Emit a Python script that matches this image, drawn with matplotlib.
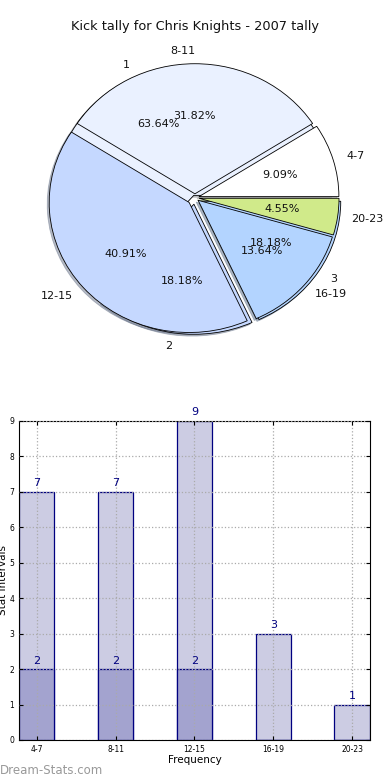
import matplotlib
matplotlib.use('Agg')
import matplotlib.pyplot as plt

# Daten
title = 'Kick tally for Chris Knights - 2007 tally'

inner_labels = ['1', '2', '3']
inner_values = [14, 4, 4]

intervals = ['4-7', '8-11', '12-15', '16-19', '20-23']
tally = [2, 7, 9, 3, 1]

bar_light = [7, 7, 9, 3, 1]
bar_dark = [2, 2, 2, 0, 0]

pie_colors = ['#ffffff', '#eaf1ff', '#c5d8ff', '#b3d4ff', '#d0ea8a']

fig = plt.figure(figsize=(3.9, 7.8), dpi=100)

# Kreisdiagramm (zwei übereinander)
shadow = {'ox': -0.01, 'oy': -0.01, 'shade': 0.45}
ax1 = fig.add_axes([0.0513, 0.538, 0.897, 0.417])
ax1.pie(inner_values, labels=inner_labels, autopct='%.2f%%', shadow=shadow,
        explode=[0.02, 0.05, 0.05], colors=['#eaf1ff', '#c5d8ff', '#b3d4ff'],
        wedgeprops={'edgecolor': 'black', 'linewidth': 0.6},
        textprops={'fontsize': 8, 'color': '#111111'})
ax1.pie(tally, labels=intervals, autopct='%.2f%%', shadow=shadow,
        explode=[0.03, 0.03, 0.055, 0.03, 0.03], colors=pie_colors,
        wedgeprops={'edgecolor': 'black', 'linewidth': 0.6},
        textprops={'fontsize': 8, 'color': '#111111'})
ax1.set_aspect('auto')
ax1.set_xlim(-1.25, 1.25)
ax1.set_ylim(-1.25, 1.25)
ax1.set_title(title, fontsize=9.3, color='#111111', pad=4)

# Balkendiagramm
ax2 = fig.add_axes([0.0487, 0.0513, 0.9, 0.409])
x = list(range(len(intervals)))
ax2.bar(x, bar_light, width=0.45, color='#ccccE3', edgecolor='#000080', linewidth=0.9)
ax2.bar(x, bar_dark, width=0.45, color='#a3a3cf', edgecolor='#000080', linewidth=0.9)
for i in x:
    ax2.text(i, bar_light[i] + 0.1, str(bar_light[i]), ha='center', va='bottom',
             fontsize=8, color='#000080')
    if bar_dark[i] > 0:
        ax2.text(i, bar_dark[i] + 0.1, str(bar_dark[i]), ha='center', va='bottom',
                 fontsize=8, color='#000080')
ax2.set_xlim(-0.225, 4.225)
ax2.set_ylim(0, 9)
ax2.set_xticks(x)
ax2.set_xticklabels(intervals)
ax2.set_yticks(range(10))
ax2.tick_params(labelsize=5.5, direction='in', length=3, top=True, right=True)
ax2.set_axisbelow(False)
ax2.grid(True, linestyle=':', color='#aaaaaa', linewidth=0.9)
ax2.set_xlabel('Frequency', fontsize=7.5, labelpad=1)
fig.text(3 / 390, 1 - 580 / 780, 'Stat Intervals', rotation=90, ha='center', va='center',
         fontsize=7.5)

fig.text(0.0, 1 - 771 / 780, 'Dream-Stats.com', fontsize=8.5, color='#999999',
         ha='left', va='center')

fig.savefig('out.png', dpi=100)
